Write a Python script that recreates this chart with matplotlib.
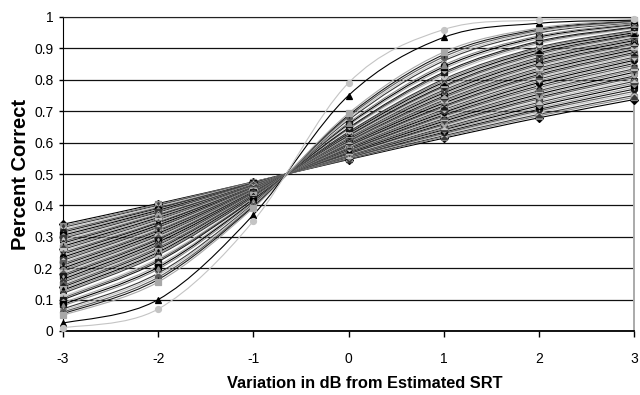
import matplotlib
matplotlib.use("Agg")
import matplotlib.pyplot as plt
import numpy as np
from matplotlib.path import Path
from matplotlib.patches import PathPatch


# Presentation levels (dB relative to estimated SRT)
X_DB = [-3, -2, -1, 0, 1, 2, 3]

# Percent correct per listener, grouped by slope
SHALLOW_CURVES = [
    [0.340, 0.406, 0.475, 0.546, 0.614, 0.679, 0.737],
    [0.335, 0.403, 0.475, 0.548, 0.618, 0.685, 0.744],
    [0.330, 0.400, 0.474, 0.549, 0.622, 0.690, 0.750],
    [0.325, 0.397, 0.473, 0.551, 0.626, 0.696, 0.757],
    [0.320, 0.393, 0.472, 0.552, 0.629, 0.701, 0.763],
    [0.315, 0.390, 0.471, 0.554, 0.633, 0.706, 0.770],
    [0.310, 0.387, 0.470, 0.555, 0.637, 0.711, 0.776],
    [0.305, 0.384, 0.470, 0.557, 0.641, 0.717, 0.783],
    [0.300, 0.381, 0.469, 0.558, 0.644, 0.722, 0.789],
    [0.295, 0.378, 0.468, 0.560, 0.648, 0.728, 0.795],
    [0.290, 0.374, 0.467, 0.562, 0.652, 0.733, 0.801],
    [0.285, 0.371, 0.466, 0.564, 0.656, 0.739, 0.807],
    [0.280, 0.368, 0.465, 0.565, 0.660, 0.744, 0.812],
]

MIDDLE_CURVES = [
    [0.275, 0.365, 0.464, 0.567, 0.664, 0.749, 0.818],
    [0.270, 0.361, 0.463, 0.568, 0.668, 0.754, 0.824],
    [0.265, 0.358, 0.462, 0.570, 0.672, 0.760, 0.830],
    [0.260, 0.354, 0.461, 0.572, 0.676, 0.765, 0.835],
    [0.255, 0.351, 0.460, 0.574, 0.680, 0.770, 0.841],
    [0.250, 0.347, 0.459, 0.575, 0.684, 0.775, 0.846],
    [0.245, 0.344, 0.458, 0.577, 0.688, 0.781, 0.852],
    [0.240, 0.340, 0.457, 0.579, 0.692, 0.786, 0.857],
    [0.235, 0.337, 0.456, 0.581, 0.696, 0.791, 0.862],
    [0.230, 0.333, 0.455, 0.583, 0.700, 0.796, 0.867],
    [0.225, 0.330, 0.454, 0.585, 0.705, 0.802, 0.872],
    [0.220, 0.326, 0.453, 0.587, 0.709, 0.807, 0.877],
    [0.215, 0.322, 0.452, 0.589, 0.713, 0.812, 0.882],
    [0.210, 0.318, 0.451, 0.591, 0.717, 0.817, 0.887],
    [0.205, 0.315, 0.450, 0.593, 0.722, 0.822, 0.892],
    [0.200, 0.311, 0.449, 0.595, 0.726, 0.827, 0.896],
]

STEEPER_CURVES = [
    [0.195, 0.307, 0.448, 0.597, 0.731, 0.832, 0.901],
    [0.190, 0.303, 0.446, 0.599, 0.735, 0.837, 0.905],
    [0.185, 0.299, 0.445, 0.601, 0.739, 0.842, 0.909],
    [0.180, 0.295, 0.444, 0.603, 0.743, 0.847, 0.913],
    [0.175, 0.291, 0.443, 0.606, 0.748, 0.852, 0.917],
    [0.170, 0.287, 0.441, 0.608, 0.753, 0.857, 0.921],
    [0.165, 0.283, 0.440, 0.611, 0.758, 0.862, 0.925],
    [0.160, 0.278, 0.439, 0.613, 0.762, 0.866, 0.929],
    [0.155, 0.274, 0.438, 0.616, 0.767, 0.871, 0.933],
    [0.150, 0.270, 0.436, 0.618, 0.772, 0.876, 0.937],
    [0.145, 0.266, 0.435, 0.621, 0.777, 0.881, 0.941],
    [0.140, 0.261, 0.433, 0.623, 0.781, 0.886, 0.944],
    [0.135, 0.256, 0.432, 0.626, 0.787, 0.891, 0.947],
    [0.130, 0.251, 0.430, 0.629, 0.792, 0.895, 0.950],
    [0.125, 0.247, 0.428, 0.632, 0.797, 0.900, 0.954],
    [0.120, 0.242, 0.426, 0.634, 0.802, 0.904, 0.957],
    [0.110, 0.231, 0.423, 0.641, 0.813, 0.914, 0.963],
    [0.105, 0.226, 0.421, 0.644, 0.819, 0.919, 0.966],
    [0.100, 0.221, 0.419, 0.647, 0.824, 0.923, 0.968],
]

STEEPEST_CURVES = [
    [0.090, 0.209, 0.415, 0.655, 0.835, 0.931, 0.973],
    [0.085, 0.203, 0.413, 0.659, 0.841, 0.936, 0.976],
    [0.080, 0.197, 0.410, 0.663, 0.847, 0.940, 0.978],
    [0.070, 0.184, 0.405, 0.672, 0.860, 0.949, 0.982],
    [0.065, 0.178, 0.402, 0.677, 0.866, 0.953, 0.984],
    [0.060, 0.171, 0.399, 0.682, 0.873, 0.957, 0.986],
    [0.055, 0.164, 0.396, 0.687, 0.880, 0.961, 0.988],
    [0.050, 0.156, 0.392, 0.693, 0.888, 0.965, 0.990],
    [0.025, 0.100, 0.370, 0.750, 0.935, 0.980, 0.990],
    [0.010, 0.070, 0.350, 0.790, 0.960, 0.990, 0.995],
]

Y_TICKS = [0, 0.1, 0.2, 0.3, 0.4, 0.5, 0.6, 0.7, 0.8, 0.9, 1]
Y_TICK_LABELS = ["0", "0.1", "0.2", "0.3", "0.4", "0.5", "0.6", "0.7", "0.8", "0.9", "1"]

SHADES = ["#000000", "#8a8a8a", "#3a3a3a", "#c4c4c4", "#5c5c5c", "#1a1a1a", "#a8a8a8"]
MARKERS = ["D", "s", "^", "x", "*", "o", "+", "s"]


def smooth_path(xs, ys):
    # Excel-style smoothed line: cubic Bezier through the points
    pts = np.column_stack([xs, ys]).astype(float)
    verts = [pts[0]]
    codes = [Path.MOVETO]
    n = len(pts)
    for i in range(n - 1):
        p0 = pts[max(i - 1, 0)]
        p1 = pts[i]
        p2 = pts[i + 1]
        p3 = pts[min(i + 2, n - 1)]
        verts += [p1 + (p2 - p0) / 6.0, p2 - (p3 - p1) / 6.0, p2]
        codes += [Path.CURVE4] * 3
    return Path(verts, codes)


def main():
    plt.rcParams["font.family"] = ["Liberation Sans", "DejaVu Sans"]

    fig = plt.figure(figsize=(6.4, 3.95), dpi=100)
    ax = fig.add_axes([63 / 640, 1 - 331 / 395, 571 / 640, 314 / 395])

    curves = SHALLOW_CURVES + MIDDLE_CURVES + STEEPER_CURVES + STEEPEST_CURVES
    for idx, ys in enumerate(curves):
        color = SHADES[idx % len(SHADES)]
        marker = MARKERS[idx % len(MARKERS)]
        if idx == len(curves) - 1:
            color, marker = "#c4c4c4", "o"
        elif idx == len(curves) - 2:
            color, marker = "#000000", "^"
        ax.add_patch(PathPatch(smooth_path(X_DB, ys), facecolor="none",
                               edgecolor=color, linewidth=0.8, zorder=2))
        ax.plot(X_DB, ys, linestyle="none", marker=marker, markersize=4.3,
                color=color, markeredgecolor=color, markeredgewidth=0.9,
                zorder=3, clip_on=False)

    ax.set_xlim(-3, 3)
    ax.set_ylim(0, 1)
    ax.set_xticks(X_DB)
    ax.set_xticklabels([str(v) for v in X_DB])
    ax.set_yticks(Y_TICKS)
    ax.set_yticklabels(Y_TICK_LABELS)

    ax.yaxis.grid(True, color="#111111", linewidth=0.9)
    ax.set_axisbelow(True)
    ax.tick_params(axis="x", direction="out", length=4, width=1, pad=11,
                   labelsize=10, color="#000000")
    ax.tick_params(axis="y", direction="out", length=3, width=1, pad=4,
                   labelsize=10, color="#000000")

    ax.spines["left"].set_color("#000000")
    ax.spines["bottom"].set_color("#000000")
    ax.spines["bottom"].set_linewidth(1.3)
    ax.spines["top"].set_color("#222222")
    ax.spines["right"].set_color("#aaaaaa")
    ax.spines["right"].set_linewidth(1.4)

    ax.set_ylabel("Percent Correct", fontsize=14.5, fontweight="bold", labelpad=3)
    fig.text(365 / 640, 1 - 384 / 395, "Variation in dB from Estimated SRT",
             ha="center", va="center", fontsize=11.8, fontweight="bold")

    fig.savefig("out.png", dpi=100)
    plt.close(fig)


if __name__ == "__main__":
    main()
